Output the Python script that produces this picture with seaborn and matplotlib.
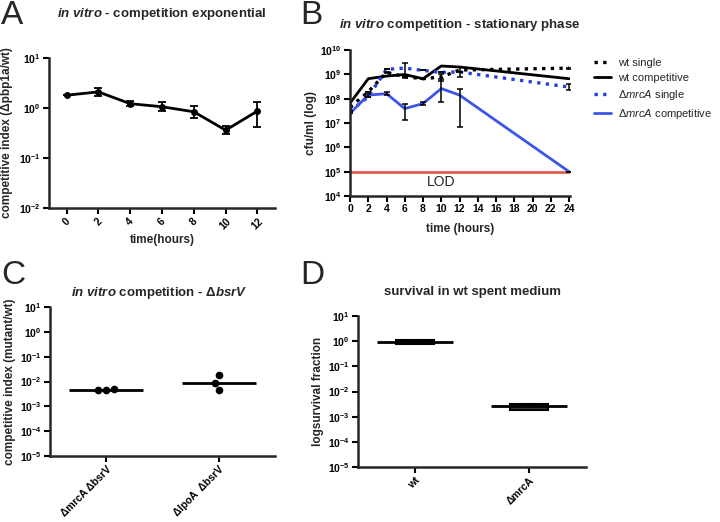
import numpy as np
import pandas as pd
import matplotlib
matplotlib.use("Agg")
import matplotlib.pyplot as plt
import seaborn as sns

# ---- panel A: competition, exponential phase ----
a_time = [0, 2, 4, 6, 8, 10, 12]
a_mean = [1.8, 2.1, 1.22, 1.06, 0.84, 0.36, 0.87]
a_low = [1.8, 1.75, 1.1, 0.88, 0.62, 0.30, 0.42]
a_high = [1.8, 2.55, 1.38, 1.30, 1.10, 0.43, 1.30]

# ---- panel B: competition, stationary phase (cfu/ml) ----
b_time = [0, 2, 4, 6, 8, 10, 12, 24]
b_wt_single = [4.5e7, 1.9e8, 1.2e9, 8.0e8, 6.6e8, 7.8e8, 1.5e9, 1.8e9]
b_wt_single_low = [4.5e7, 1.9e8, 1.1e9, 8.0e8, 6.6e8, 5.5e8, 7.8e8, 1.7e9]
b_wt_single_high = [4.5e7, 1.9e8, 1.3e9, 8.0e8, 6.6e8, 1.0e9, 2.0e9, 1.9e9]
b_wt_comp = [6.5e7, 6.6e8, 8.5e8, 9.8e8, 6.6e8, 2.2e9, 2.0e9, 6.6e8]
b_mrca_single = [3.0e7, 1.2e8, 1.6e9, 1.8e9, 1.45e9, 1.2e9, 1.25e9, 3.0e8]
b_mrca_single_low = [3.0e7, 1.2e8, 1.6e9, 7.0e8, 1.45e9, 1.2e9, 1.25e9, 2.3e8]
b_mrca_single_high = [3.0e7, 1.2e8, 1.6e9, 2.9e9, 1.45e9, 1.2e9, 1.25e9, 4.0e8]
b_mrca_comp = [2.5e7, 1.4e8, 1.6e8, 3.9e7, 6.3e7, 2.6e8, 1.4e8, 1.0e5]
b_mrca_comp_low = [2.5e7, 1.2e8, 1.4e8, 1.3e7, 5.5e7, 7.2e7, 7.0e6, 1.0e5]
b_mrca_comp_high = [2.5e7, 1.6e8, 1.8e8, 6.3e7, 7.2e7, 6.6e8, 2.6e8, 1.0e5]
lod = 1e5

# ---- panel C: competitive index, bsrV background ----
c_strains = ["ΔmrcA ΔbsrV", "ΔlpoA  ΔbsrV"]
c_mrca = [5.0e-3, 4.5e-3, 4.6e-3]
c_lpoa = [1.9e-2, 8.5e-3, 4.5e-3]

# ---- panel D: survival in wt spent medium ----
d_strains = ["wt", "ΔmrcA"]
d_mean = [0.93, 2.6e-3]
d_low = [0.78, 1.9e-3]
d_high = [1.1, 3.3e-3]

sns.set_theme(style="ticks")
plt.rcParams["font.family"] = ["Liberation Sans", "DejaVu Sans"]
plt.rcParams["font.weight"] = "bold"
plt.rcParams["mathtext.fontset"] = "custom"
plt.rcParams["mathtext.rm"] = "Liberation Sans:weight=normal"
plt.rcParams["mathtext.it"] = "Liberation Sans:style=italic:weight=normal"
plt.rcParams["mathtext.bf"] = "Liberation Sans:style=italic:weight=bold"
plt.rcParams["axes.linewidth"] = 1.8
plt.rcParams["xtick.major.width"] = 1.5
plt.rcParams["ytick.major.width"] = 1.5
plt.rcParams["xtick.major.size"] = 4
plt.rcParams["ytick.major.size"] = 4
plt.rcParams["xtick.labelsize"] = 7.5
plt.rcParams["ytick.labelsize"] = 7.5
plt.rcParams["axes.labelsize"] = 8.5
plt.rcParams["axes.labelweight"] = "bold"

W, H = 720, 522
fig = plt.figure(figsize=(7.2, 5.22), dpi=100)


def box(l, t, r, b):
    return [l / W, 1 - b / H, (r - l) / W, (b - t) / H]


def style_log(ax, lo, hi):
    ax.set_yscale("log")
    ax.set_ylim(lo, hi)
    ax.yaxis.set_major_locator(matplotlib.ticker.LogLocator(base=10, numticks=20))
    ax.yaxis.set_minor_locator(matplotlib.ticker.NullLocator())
    sns.despine(ax=ax)
    ax.tick_params(colors="black", pad=2)


# Panel A
axA = fig.add_axes(box(49, 58, 275, 208))
dfA = pd.DataFrame({"time": a_time, "ci": a_mean})
sns.lineplot(data=dfA, x="time", y="ci", ax=axA, color="black", lw=2,
             marker="o", markersize=5, markeredgewidth=0)
axA.errorbar(a_time, a_mean,
             yerr=[np.array(a_mean) - np.array(a_low), np.array(a_high) - np.array(a_mean)],
             fmt="none", ecolor="black", elinewidth=1.3, capsize=3, capthick=1.3)
style_log(axA, 1e-2, 1e1)
axA.set_xlim(-1.1, 13.1)
axA.set_xticks(a_time)
axA.set_xticklabels([str(t) for t in a_time], rotation=45, ha="center")
axA.set_xlabel("time(hours)", labelpad=2)
axA.set_ylabel("competitive index (Δpbp1a/wt)", labelpad=4)

# Panel B
axB = fig.add_axes(box(350, 50, 570, 196))
dot = (0, (1, 1.6))
sns.lineplot(x=b_time, y=b_wt_single, ax=axB, color="black", lw=2.4, linestyle=dot,
             label="wt single")
sns.lineplot(x=b_time, y=b_wt_comp, ax=axB, color="black", lw=2, label="wt competitive")
sns.lineplot(x=b_time, y=b_mrca_single, ax=axB, color="#2a3fe0", lw=2.4, linestyle=dot,
             label="Δ$\\mathit{mrcA}$ single")
sns.lineplot(x=b_time, y=b_mrca_comp, ax=axB, color="#3a55e8", lw=2,
             label="Δ$\\mathit{mrcA}$ competitive")
for m, lo, hi in [(b_wt_single, b_wt_single_low, b_wt_single_high),
                  (b_mrca_single, b_mrca_single_low, b_mrca_single_high),
                  (b_mrca_comp, b_mrca_comp_low, b_mrca_comp_high)]:
    m, lo, hi = np.array(m), np.array(lo), np.array(hi)
    axB.errorbar(b_time, m, yerr=[m - lo, hi - m], fmt="none", ecolor="black",
                 elinewidth=1.1, capsize=2.5, capthick=1.1)
axB.axhline(lod, color="#e0604f", lw=2, zorder=1)
axB.text(10, 3.6e4, "LOD", ha="center", va="center", fontsize=10, fontweight="normal")
style_log(axB, 1e4, 1e10)
axB.set_xlim(0, 24.1)
axB.set_xticks(range(0, 25, 2))
axB.set_xlabel("time (hours)", labelpad=6)
axB.set_ylabel("cfu/ml (log)", labelpad=2)
axB.legend(loc="upper left", bbox_to_anchor=(594 / W, 1 - 58 / H),
           bbox_transform=fig.transFigure, frameon=False, borderpad=0, borderaxespad=0,
           handlelength=1.5, handletextpad=0.7, labelspacing=0.45,
           prop={"size": 8, "weight": "normal"})

# Panel C
axC = fig.add_axes(box(50, 307, 275, 456))
axC.set_yscale("log")
dfC = pd.DataFrame({"strain": [c_strains[0]] * len(c_mrca) + [c_strains[1]] * len(c_lpoa),
                    "ci": c_mrca + c_lpoa})
sns.swarmplot(data=dfC, x="strain", y="ci", ax=axC, color="black", size=5.5)
for i, vals in enumerate([c_mrca, c_lpoa]):
    axC.hlines(np.median(vals), i - 0.33, i + 0.33, color="black", lw=2)
style_log(axC, 1e-5, 1e1)
axC.set_xlim(-0.5, 1.5)
axC.set_xticks([0, 1])
axC.set_xticklabels(c_strains, rotation=45, ha="right", rotation_mode="anchor")
axC.set_xlabel("")
axC.set_ylabel("competitive index (mutant/wt)", labelpad=3)

# Panel D
axD = fig.add_axes(box(358, 316, 586, 467))
axD.set_yscale("log")
dfD = pd.DataFrame({"strain": d_strains, "mean": d_mean, "low": d_low, "high": d_high})
axD.bar(range(len(d_strains)), dfD["high"] - dfD["low"], bottom=dfD["low"], width=0.34,
        color="#3c3c3c", edgecolor="black", linewidth=1.5)
sns.scatterplot(data=dfD, x=[0, 1], y="mean", ax=axD, marker="_", s=40, color="black",
                linewidth=1.5, legend=False)
axD.hlines(dfD["mean"], np.arange(2) - 0.33, np.arange(2) + 0.33, color="black", lw=2)
style_log(axD, 1e-5, 1e1)
axD.set_xlim(-0.5, 1.5)
axD.set_xticks([0, 1])
axD.set_xticklabels(d_strains, rotation=45, ha="right", rotation_mode="anchor")
axD.set_ylabel("logsurvival fraction", labelpad=3)

# Titles and panel letters
fig.text(162 / W, 1 - 14 / H, "$\\mathbf{in\\ vitro}$ - competition exponential",
         ha="center", va="center", fontsize=9.5, fontweight="bold")
fig.text(460 / W, 1 - 25 / H, "$\\mathbf{in\\ vitro}$ competition - stationary phase",
         ha="center", va="center", fontsize=9.5, fontweight="bold")
fig.text(159 / W, 1 - 293 / H, "$\\mathbf{in\\ vitro}$ competition - Δ$\\mathbf{bsrV}$",
         ha="center", va="center", fontsize=9.5, fontweight="bold")
fig.text(472 / W, 1 - 292 / H, "survival in wt spent medium",
         ha="center", va="center", fontsize=9.5, fontweight="bold")
for letter, x, y in [("A", 1, 0), ("B", 300, 0), ("C", 1, 260), ("D", 300, 260)]:
    fig.text(x / W, 1 - y / H, letter, ha="left", va="top", fontsize=24, fontweight="normal")

fig.savefig("out.png", dpi=100)
